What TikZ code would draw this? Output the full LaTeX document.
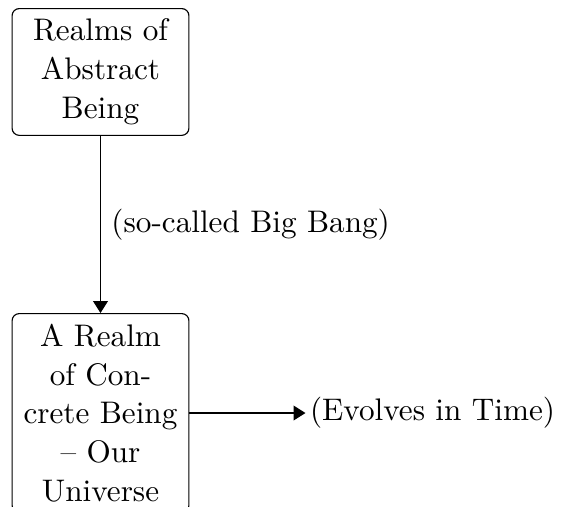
\documentclass[tikz,border=0pt]{standalone}
\usetikzlibrary{arrows.meta,positioning}
\begin{document}
\begin{tikzpicture}[x=0.3509pt,y=-0.3509pt,
  every node/.style={font=\fontsize{10.95}{13.6}\selectfont, inner sep=3.65pt},
  realm/.style={draw, rounded corners=2.5pt, align=center, text width=54.75pt},
  flow/.style={-{Triangle[length=4.2pt,width=5.2pt]}}]
\useasboundingbox (0,0) rectangle (563,506);
\clip (0,0) rectangle (563,506);
% the two realms
\node[realm, anchor=north] (abs) at (100.5,8) {Realms of\\ Abstract\\ Being};
\node[realm, anchor=north] (con) at (100.5,313) {A Realm\\ of Con-\\crete Being\\ -- Our\\ Universe};
% transitions
\draw[flow] (abs) -- node[right] {(so-called Big Bang)} (con);
\node[right=40.7pt of con, inner sep=1.4pt] (evo) {(Evolves in Time)};
\draw[flow] (con) -- (evo);
\end{tikzpicture}
\end{document}
